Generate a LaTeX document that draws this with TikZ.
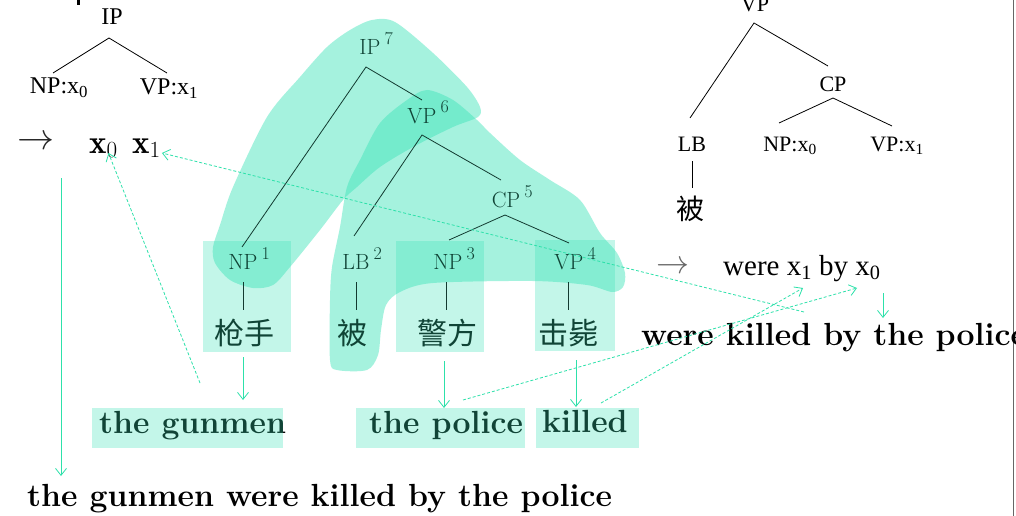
\RequirePackage{fix-cm}
\documentclass[tikz,border=0pt]{standalone}
\usepackage{fontspec}
\newfontfamily\tms{Liberation Serif}
\newfontfamily\cjk{Noto Sans CJK SC}
\usetikzlibrary{arrows.meta,calc}
\definecolor{hl}{RGB}{57,228,184}
\definecolor{ac}{RGB}{45,225,170}
\definecolor{mtext}{RGB}{16,68,54}
\definecolor{mline}{RGB}{18,58,48}
\newcommand{\supnum}[1]{\rlap{\hspace{4pt}\raisebox{10pt}{\fontsize{18}{18}\selectfont #1}}}
\tikzset{
  lt/.style={font=\tms\fontsize{24}{24}\selectfont, inner sep=0pt},
  rr/.style={font=\tms\fontsize{22}{22}\selectfont, inner sep=0pt},
  rw/.style={font=\tms\fontsize{29}{29}\selectfont, inner sep=0pt},
  mt/.style={font=\fontsize{22}{22}\selectfont, inner sep=0pt, text=mtext},
  zh/.style={font=\cjk\fontsize{30}{30}\selectfont, inner sep=0pt, text=mtext},
  zhs/.style={font=\cjk\fontsize{28}{28}\selectfont, inner sep=0pt},
  bx/.style={font=\fontsize{33}{33}\selectfont, inner sep=0pt},
  bw/.style={font=\fontsize{32}{32}\selectfont\bfseries, inner sep=0pt},
  arrl/.style={font=\fontsize{37}{37}\selectfont, inner sep=0pt, text=black!85},
  arrr/.style={font=\fontsize{33}{33}\selectfont, inner sep=0pt, text=black!60},
  tl/.style={line width=0.8pt, draw=black},
  ml/.style={line width=0.8pt, draw=mline},
  blob/.style={fill=hl, fill opacity=0.45, draw=none},
  hbox/.style={fill=hl, fill opacity=0.3, draw=none},
  darr/.style={draw=ac, line width=0.8pt, dash pattern=on 3pt off 2pt, -{Straight Barb[length=7pt,width=11pt]}},
  sarr/.style={draw=ac, line width=0.8pt, -{Straight Barb[length=7pt,width=11pt]}},
}
\begin{document}
\begin{tikzpicture}[x=1pt,y=-1pt]
\useasboundingbox (0,0) rectangle (1016,516);
\clip (0,0) rectangle (1016,516);
\fill[white] (0,0) rectangle (1016,516);

% ---------- left rule ----------
\fill[black] (77,0) rectangle (79.5,5);
\node[lt, anchor=base] (lip) at (112,25) {IP};
\node[lt, anchor=base] (lnp) at (59,94) {NP:x\textsubscript{0}};
\node[lt, anchor=base] (lvp) at (169,95) {VP:x\textsubscript{1}};
\draw[tl] ($(lnp.base)+(-6,-21)$) -- ($(lip.base)+(-3,13)$) -- ($(lvp.base)+(-2,-22)$);
\node[arrl] (larr) at (36,143) {$\rightarrow$};
\node[bx, anchor=base west] (lx0) at (89,153) {$\mathbf{x}_0$};
\node[bx, anchor=base west] (lx1) at (132,153) {$\mathbf{x}_1$};

% ---------- right rule ----------
\node[rr, anchor=base] (rvp) at (755,12) {VP};
\node[rr, anchor=base] (rcp) at (833,92) {CP};
\node[rr, anchor=base] (rlb) at (692,151) {LB};
\node[rr, anchor=base] (rnp) at (790,151) {NP:x\textsubscript{0}};
\node[rr, anchor=base] (rvx) at (897,151) {VP:x\textsubscript{1}};
\node[zhs] (rbei) at (690,209) {被};
\draw[tl] ($(rlb.base)+(-2,-33)$) -- ($(rvp.base)+(-1,11)$) -- ($(rcp.base)+(-5,-26)$);
\draw[tl] ($(rnp.base)+(-11,-28)$) -- ($(rcp.base)+(0,6)$) -- ($(rvx.base)+(-5,-25)$);
\draw[tl] ($(rlb.base)+(0,10)$) -- ($(rbei)+(2,-21)$);
\node[arrr] (rarr) at (673,267) {$\rightarrow$};
\node[rw, anchor=base west] (rrule) at (723,275) {were x\textsubscript{1} by x\textsubscript{0}};
\draw[black!60, line width=1.5pt] (1013.5,0) -- (1013.5,516);

% ---------- English ----------
\node[bw, anchor=base west] (tg) at (99,433) {the gunmen};
\node[bw, anchor=base west] (tp) at (369,433) {the police};
\node[bw, anchor=base west] (tk) at (542,432) {killed};
\node[bw, anchor=base west] (s1) at (27,506) {the gunmen were killed by the police};
\node[bw, anchor=base west] (s2) at (641,345) {were killed by the police};

% ---------- highlights ----------
\fill[blob] plot[smooth cycle, tension=0.5] coordinates {
 (215,263) (213,247) (220,225) (233,187) (267,117) (300,77) (327,47) (350,30)
 (372,20) (395,22) (433,53) (467,87) (480,107) (478,117) (453,127) (413,147)
 (380,167) (357,187) (343,200) (320,230) (290,267) (273,285) (253,288) (230,280)};
\fill[blob] plot[smooth cycle, tension=0.5] coordinates {
 (330,360) (330,300) (332,267) (340,227) (347,187) (360,160) (380,123) (407,100)
 (427,90) (453,100) (477,120) (490,133) (520,160) (550,180) (580,200) (600,233)
 (617,253) (625,273) (623,287) (612,292) (587,285) (533,281) (433,283) (400,292)
 (386,305) (381,330) (378,355) (367,370) (337,370)};
\fill[hbox] (203,241) rectangle (291,352);
\fill[hbox] (396,241) rectangle (484,352);
\fill[hbox] (535,240) rectangle (615,351);
\fill[hbox] (92,408) rectangle (283,448);
\fill[hbox] (356,408) rectangle (525,448);
\fill[hbox] (536,408) rectangle (639,448);

% ---------- middle tree (over the highlights) ----------
\node[mt, anchor=base] (ip7) at (370,55) {IP\supnum{7}};
\node[mt, anchor=base] (vp6) at (422,123) {VP\supnum{6}};
\node[mt, anchor=base] (cp5) at (506,207) {CP\supnum{5}};
\node[mt, anchor=base] (np1) at (243,269) {NP\supnum{1}};
\node[mt, anchor=base] (lb2) at (356,269) {LB\supnum{2}};
\node[mt, anchor=base] (np3) at (448,269) {NP\supnum{3}};
\node[mt, anchor=base] (vp4) at (569,269) {VP\supnum{4}};
\node[zh] (w1) at (244,333) {枪手};
\node[zh] (w2) at (352,333) {被};
\node[zh] (w3) at (447,333) {警方};
\node[zh] (w4) at (568,333) {击毙};
\draw[ml] ($(np1.base)+(-1,-22)$) -- ($(ip7.base)+(-4,12)$) -- ($(vp6.base)+(0,-23)$);
\draw[ml] ($(lb2.base)+(-2,-33)$) -- ($(vp6.base)+(0,12)$) -- ($(cp5.base)+(-5,-27)$);
\draw[ml] ($(np3.base)+(1,-29)$) -- ($(cp5.base)+(-1,8)$) -- ($(vp4.base)+(0,-26)$);
\draw[ml] ($(np1.base)+(0,13)$) -- ($(w1)+(-1,-23)$);
\draw[ml] ($(lb2.base)+(0,13)$) -- ($(w2)+(4,-23)$);
\draw[ml] ($(np3.base)+(-2,13)$) -- ($(w3)+(-1,-23)$);
\draw[ml] ($(vp4.base)+(-1,13)$) -- ($(w4)+(0,-23)$);

% ---------- arrows ----------
\coordinate (a1s) at (61,178);   \coordinate (a1e) at (61,476);
\coordinate (a2s) at (243,357);  \coordinate (a2e) at (243,400);
\coordinate (a3s) at (444,361);  \coordinate (a3e) at (444,408);
\coordinate (a4s) at (576,360);  \coordinate (a4e) at (576,407);
\coordinate (a5s) at (883,293);  \coordinate (a5e) at (883,318);
\draw[sarr] (a1s) -- (a1e);
\draw[sarr] (a2s) -- (a2e);
\draw[sarr] (a3s) -- (a3e);
\draw[sarr] (a4s) -- (a4e);
\draw[sarr] (a5s) -- (a5e);

\coordinate (d1s) at (200,383);
\coordinate (d2s) at (804,312);
\coordinate (d3s) at (463,400);  \coordinate (d3e) at (857,288);
\coordinate (d4s) at (601,403);  \coordinate (d4e) at (803,288);
\draw[darr] (d1s) -- ($(lx0.base)+(5,0)$);
\draw[darr] (d2s) -- ($(lx1.base east)+(1,0)$);
\draw[darr] (d3s) -- (d3e);
\draw[darr] (d4s) -- (d4e);
\end{tikzpicture}
\end{document}
